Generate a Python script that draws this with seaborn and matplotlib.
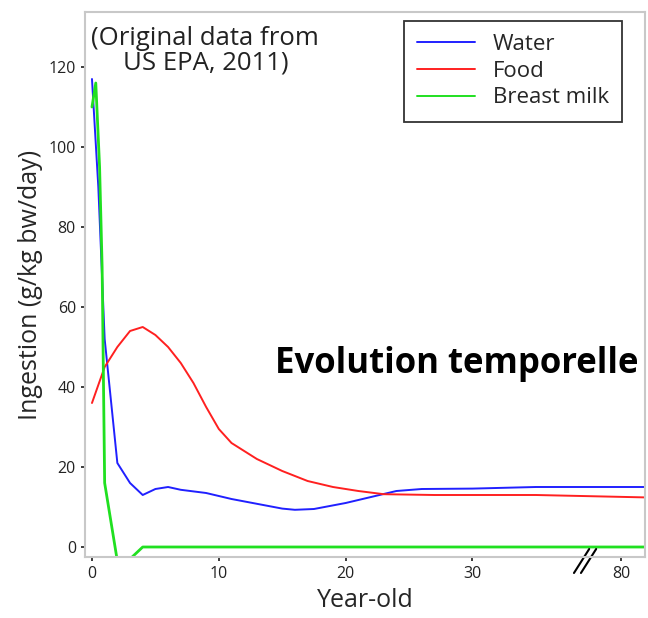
import matplotlib
matplotlib.use("Agg")
import matplotlib.pyplot as plt
import seaborn as sns
import pandas as pd

sns.set_theme(style="white")
plt.rcParams['font.family'] = ['Open Sans', 'DejaVu Sans']

water_x = [0, 0.5, 1, 2, 3, 4, 5, 6, 7, 9, 11, 13, 15, 16, 17.5, 20, 22, 24, 26, 30, 35, 43.6]
water_y = [117, 90, 52, 21, 16, 13, 14.5, 15, 14.3, 13.5, 12, 10.8, 9.6, 9.3, 9.5, 11, 12.5, 14, 14.5, 14.6, 15, 15]
food_x = [0, 1, 2, 3, 4, 5, 6, 7, 8, 9, 10, 11, 13, 15, 17, 19, 21, 23, 27, 35, 43.6]
food_y = [36, 45, 50, 54, 55, 53, 50, 46, 41, 35, 29.5, 26, 22, 19, 16.5, 15, 14, 13.2, 13, 13, 12.4]
milk_x = [0, 0.3, 0.6, 0.8, 1, 2, 3, 4, 43.6]
milk_y = [110, 116, 95, 70, 16, -3.5, -3, 0, 0]
x_ticks = [0, 10, 20, 30, 41.7]
x_tick_labels = ["0", "10", "20", "30", "80"]
y_ticks = [0, 20, 40, 60, 80, 100, 120]

df = pd.concat([
    pd.DataFrame({"x": water_x, "y": water_y, "s": "Water"}),
    pd.DataFrame({"x": food_x, "y": food_y, "s": "Food"}),
    pd.DataFrame({"x": milk_x, "y": milk_y, "s": "Breast milk"}),
])

fig = plt.figure(figsize=(6.48, 6.18), dpi=100)
ax = fig.add_axes([85/648, 1-557/618, 560/648, 545/618])
sns.lineplot(data=df, x="x", y="y", hue="s", sort=False, estimator=None,
             palette={"Water": "#2020ff", "Food": "#ff2020", "Breast milk": "#20e020"},
             linewidth=1.4, ax=ax)
ax.lines[2].set_linewidth(2)
ax.set_xlim(-0.55, 43.6)
ax.set_ylim(-2.5, 133.75)
ax.set_xticks(x_ticks)
ax.set_xticklabels(x_tick_labels)
ax.set_yticks(y_ticks)
ax.tick_params(labelsize=11.5, length=3, colors="#222222", direction="out", bottom=True, left=True)
for s in ax.spines.values():
    s.set_color("#c8c8c8")
    s.set_linewidth(1.5)
ax.set_xlabel("Year-old", fontsize=18)
ax.set_ylabel("Ingestion (g/kg bw/day)", fontsize=18)
leg = ax.legend(loc="upper right", fontsize=16, frameon=True, fancybox=False,
                edgecolor="black", handlelength=2.6, borderaxespad=0.4,
                borderpad=0.6, labelspacing=0.25, bbox_to_anchor=(0.975, 1.0))
leg.get_frame().set_linewidth(1.3)
ax.text(0.215, 0.975, "(Original data from\nUS EPA, 2011)", transform=ax.transAxes,
        ha="center", va="top", fontsize=18.5, color="#222222", linespacing=1.0)
ax.text(0.34, 0.355, "Evolution temporelle", transform=ax.transAxes, fontsize=25,
        fontweight="bold", color="black", clip_on=False, va="center")
# axis break marks
for dx in (0, 0.55):
    ax.plot([38.0 + dx, 39.2 + dx], [-6.5, -0.5], color="black", lw=1.5, clip_on=False)
fig.savefig("out.png", dpi=100)
